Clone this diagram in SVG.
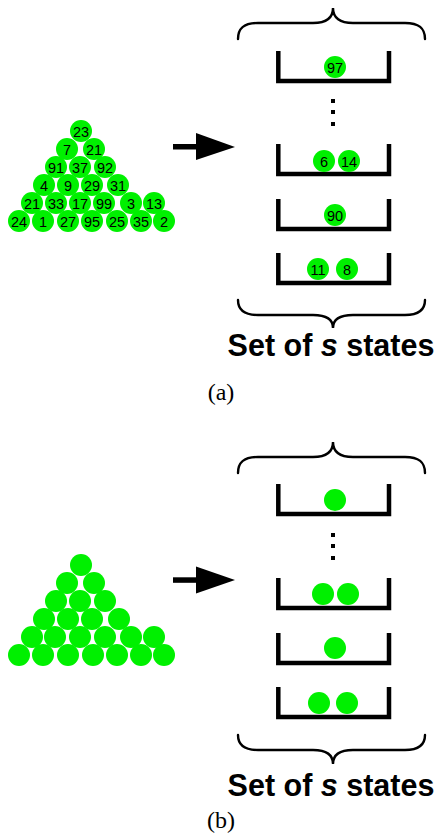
<svg xmlns="http://www.w3.org/2000/svg" width="439" height="836" viewBox="0 0 439 836">
<style>
.ball{fill:#00f000}
.num{font-family:"Liberation Sans",Arial,sans-serif;font-size:14.5px;text-anchor:middle;fill:#000}
.bucket{fill:none;stroke:#000;stroke-width:4.5;stroke-linejoin:miter}
.brace{fill:none;stroke:#000;stroke-width:2.4;stroke-linecap:round}
.title{font-family:"Liberation Sans",Arial,sans-serif;font-size:30.5px;font-weight:bold;text-anchor:middle;fill:#000}
.cap{font-family:"Liberation Serif","Times New Roman",serif;font-size:24px;text-anchor:middle;fill:#000}
.dot{fill:#000}
</style>
<defs>
<circle id="b" r="11" class="ball"/>
</defs>
<rect width="439" height="836" fill="#fff"/>

<!-- Panel (a) -->
<g id="pyramid-a">
<use href="#b" x="81" y="131"/><text class="num" x="81" y="136.5">23</text>
<use href="#b" x="67" y="149"/><text class="num" x="67" y="154.5">7</text>
<use href="#b" x="94" y="149"/><text class="num" x="94" y="154.5">21</text>
<use href="#b" x="56" y="167"/><text class="num" x="56" y="172.5">91</text>
<use href="#b" x="80" y="167"/><text class="num" x="80" y="172.5">37</text>
<use href="#b" x="105" y="167"/><text class="num" x="105" y="172.5">92</text>
<use href="#b" x="44" y="185"/><text class="num" x="44" y="190.5">4</text>
<use href="#b" x="68" y="185"/><text class="num" x="68" y="190.5">9</text>
<use href="#b" x="92" y="185"/><text class="num" x="92" y="190.5">29</text>
<use href="#b" x="118" y="185"/><text class="num" x="118" y="190.5">31</text>
<use href="#b" x="32" y="203"/><text class="num" x="32" y="208.5">21</text>
<use href="#b" x="56" y="203"/><text class="num" x="56" y="208.5">33</text>
<use href="#b" x="80" y="203"/><text class="num" x="80" y="208.5">17</text>
<use href="#b" x="104" y="203"/><text class="num" x="104" y="208.5">99</text>
<use href="#b" x="131" y="203"/><text class="num" x="131" y="208.5">3</text>
<use href="#b" x="154" y="203"/><text class="num" x="154" y="208.5">13</text>
<use href="#b" x="19" y="221"/><text class="num" x="19" y="226.5">24</text>
<use href="#b" x="43" y="221"/><text class="num" x="43" y="226.5">1</text>
<use href="#b" x="68" y="221"/><text class="num" x="68" y="226.5">27</text>
<use href="#b" x="92" y="221"/><text class="num" x="92" y="226.5">95</text>
<use href="#b" x="117" y="221"/><text class="num" x="117" y="226.5">25</text>
<use href="#b" x="141" y="221"/><text class="num" x="141" y="226.5">35</text>
<use href="#b" x="164" y="221"/><text class="num" x="164" y="226.5">2</text>
</g>

<g id="brace-top-a">
<path class="brace" d="M238,39 C238,28 244,23 258,23 L313,23 C326,23 333,18 333,8 C333,18 340,23 353,23 L405,23 C419,23 425,28 425,39"/>
</g>

<g id="state-a1">
<path class="bucket" d="M278.3,51 V81 H389 V51"/>
<use href="#b" x="335" y="67"/><text class="num" x="335" y="72.5">97</text>
</g>
<g id="dots-a">
<rect class="dot" x="331" y="99" width="4" height="4"/>
<rect class="dot" x="331" y="110" width="4" height="4"/>
<rect class="dot" x="331" y="122" width="4" height="4"/>
</g>
<g id="state-a2">
<path class="bucket" d="M278.3,144 V174 H389 V144"/>
<use href="#b" x="324" y="161"/><text class="num" x="324" y="166.5">6</text>
<use href="#b" x="349" y="161"/><text class="num" x="349" y="166.5">14</text>
</g>
<g id="state-a3">
<path class="bucket" d="M278.3,199 V229 H389 V199"/>
<use href="#b" x="335" y="215"/><text class="num" x="335" y="220.5">90</text>
</g>
<g id="state-a4">
<path class="bucket" d="M278.3,253 V283 H389 V253"/>
<use href="#b" x="318" y="269"/><text class="num" x="318" y="274.5">11</text>
<use href="#b" x="347" y="269"/><text class="num" x="347" y="274.5">8</text>
</g>

<g id="brace-bottom-a">
<path class="brace" d="M238,300 C238,310 244,315 258,315 L313,315 C326,315 333,319 333,328 C333,319 340,315 353,315 L405,315 C419,315 425,310 425,300"/>
</g>
<g id="label-a">
<text class="title" x="331" y="356">Set of <tspan font-style="italic">s</tspan> states</text>
<text class="cap" x="221" y="400">(a)</text>
</g>

<!-- Panel (b) -->
<g id="pyramid-b">
<use href="#b" x="81" y="565"/>
<use href="#b" x="67" y="583"/>
<use href="#b" x="94" y="583"/>
<use href="#b" x="56" y="601"/>
<use href="#b" x="80" y="601"/>
<use href="#b" x="105" y="601"/>
<use href="#b" x="44" y="619"/>
<use href="#b" x="68" y="619"/>
<use href="#b" x="92" y="619"/>
<use href="#b" x="119" y="619"/>
<use href="#b" x="32" y="637"/>
<use href="#b" x="55" y="637"/>
<use href="#b" x="80" y="637"/>
<use href="#b" x="105" y="637"/>
<use href="#b" x="131" y="637"/>
<use href="#b" x="154" y="637"/>
<use href="#b" x="19" y="655"/>
<use href="#b" x="43" y="655"/>
<use href="#b" x="68" y="655"/>
<use href="#b" x="93" y="655"/>
<use href="#b" x="117" y="655"/>
<use href="#b" x="141" y="655"/>
<use href="#b" x="164" y="655"/>
</g>

<g id="brace-top-b">
<path class="brace" d="M238,473 C238,462 244,457 258,457 L313,457 C326,457 333,452 333,442 C333,452 340,457 353,457 L405,457 C419,457 425,462 425,473"/>
</g>

<g id="state-b1">
<path class="bucket" d="M278.3,484 V514 H389 V484"/>
<use href="#b" x="335" y="500"/>
</g>
<g id="dots-b">
<rect class="dot" x="331" y="533" width="4" height="4"/>
<rect class="dot" x="331" y="544" width="4" height="4"/>
<rect class="dot" x="331" y="556" width="4" height="4"/>
</g>
<g id="state-b2">
<path class="bucket" d="M278.3,578 V608 H389 V578"/>
<use href="#b" x="323" y="594"/>
<use href="#b" x="348" y="594"/>
</g>
<g id="state-b3">
<path class="bucket" d="M278.3,633 V663 H389 V633"/>
<use href="#b" x="335" y="648"/>
</g>
<g id="state-b4">
<path class="bucket" d="M278.3,687 V717 H389 V687"/>
<use href="#b" x="319" y="703"/>
<use href="#b" x="347" y="703"/>
</g>

<g id="brace-bottom-b">
<path class="brace" d="M238,735 C238,745 244,750 258,750 L313,750 C326,750 333,754 333,764 C333,754 340,750 353,750 L405,750 C419,750 425,745 425,735"/>
</g>
<g id="label-b">
<text class="title" x="331" y="796">Set of <tspan font-style="italic">s</tspan> states</text>
<text class="cap" x="221" y="828">(b)</text>
</g>

<g id="connectors">
<rect x="173" y="144" width="24" height="5.5" fill="#000"/>
<polygon points="196,133 235,147 196,160" fill="#000"/>
<rect x="173" y="577.3" width="24" height="5.5" fill="#000"/>
<polygon points="196,566.5 235,580 196,593.5" fill="#000"/>
</g>
</svg>
